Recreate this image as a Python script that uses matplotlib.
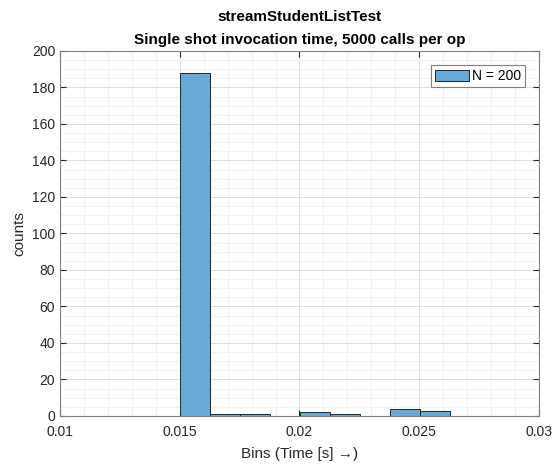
import numpy as np
import matplotlib
matplotlib.use("Agg")
import matplotlib.pyplot as plt
from matplotlib.ticker import MultipleLocator, AutoMinorLocator, FuncFormatter

plt.rcParams['font.family'] = ['Liberation Sans', 'DejaVu Sans']

# Histogram of per-call invocation times (9 bins)
bin_edges = np.linspace(0.01501, 0.02628, 10)
counts = [188, 1, 1, 0, 2, 1, 0, 4, 3]
n_total = 200

title_lines = ["streamStudentListTest", "Single shot invocation time, 5000 calls per op"]
xlabel = "Bins (Time [s] \u2192)"
ylabel = "counts"

face = (0.4, 0.667, 0.843)
axcol = (0.15, 0.15, 0.15)

fig = plt.figure(figsize=(5.56, 4.66), dpi=100)
ax = fig.add_axes([0.1079, 0.1073, 0.8615, 0.7833])

ax.hist(bin_edges[:-1], bins=bin_edges, weights=counts, color=face,
        edgecolor=(0.15, 0.15, 0.15), linewidth=0.7, label=f"N = {n_total}",
        zorder=3)

ax.set_xlim(0.01, 0.03)
ax.set_ylim(0, 200)
ax.xaxis.set_major_locator(MultipleLocator(0.005))
ax.yaxis.set_major_locator(MultipleLocator(20))
ax.xaxis.set_minor_locator(AutoMinorLocator(5))
ax.yaxis.set_minor_locator(AutoMinorLocator(4))
ax.xaxis.set_major_formatter(FuncFormatter(lambda v, p: f"{v:g}"))

ax.grid(which='major', color=(0.85, 0.85, 0.85), linewidth=0.6, zorder=0)
ax.grid(which='minor', color=(0.93, 0.93, 0.93), linewidth=0.5, zorder=0)
ax.set_axisbelow(True)

ax.tick_params(which='both', direction='in', colors=axcol, labelsize=10,
               top=True, right=True)
ax.tick_params(which='major', length=4)
ax.tick_params(which='minor', length=0)
ax.tick_params(axis='x', pad=6.5)
for s in ax.spines.values():
    s.set_color((0.5, 0.5, 0.5))
    s.set_linewidth(0.8)

ax.set_xlabel(xlabel, fontsize=11, color=axcol, labelpad=6)
ax.set_ylabel(ylabel, fontsize=11, color=axcol)
ax.set_title("\n".join(title_lines), fontsize=11, fontweight='bold', color=(0, 0, 0),
             linespacing=1.8, pad=5)

leg = ax.legend(loc='upper right', fontsize=10, fancybox=False, framealpha=1,
                edgecolor=(0.5, 0.5, 0.5), handlelength=2.45, handleheight=0.86,
                borderpad=0.3, handletextpad=0.2, borderaxespad=1.0)
leg.get_frame().set_linewidth(0.8)

fig.savefig("out.png", dpi=100)
